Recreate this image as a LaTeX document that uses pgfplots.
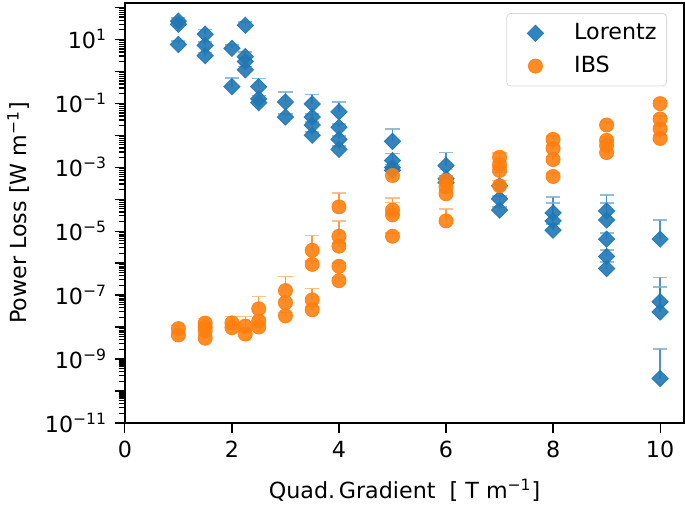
\documentclass[border=0pt]{standalone}
\usepackage{pgfplots}
\pgfplotsset{compat=1.18}
\usepackage{pgfplotstable}
\usepackage{fontspec}
\setmainfont{DejaVu Sans}
\definecolor{cblue}{HTML}{1F77B4}
\definecolor{corange}{HTML}{FF7F0E}
\pgfplotsset{widemark/.style={legend image code/.code={\path (0pt,0pt) (28pt,0pt); \draw[mark repeat=2,mark phase=2,##1] plot coordinates {(0pt,0pt)(11pt,0pt)(18pt,0pt)};}}}

\pgfplotstableread{
x y r
1 37.2 0.26
1 29.5 0.26
1 6.92 0.26
1.5 14.5 0.41
1.5 6.46 0.26
1.5 3.09 0.26
2 5.25 0.26
2 0.331 0.905
2.25 27.5 0.26
2.25 2.88 0.41
2.25 2.04 0.26
2.25 1.12 0.26
2.5 0.331 0.778
2.5 0.138 0.26
2.5 0.105 0.26
3 0.110 1.089
3 0.0372 0.26
3.5 0.0955 0.995
3.5 0.0372 0.26
3.5 0.0209 0.26
3.5 0.0100 0.26
4 0.0537 1.089
4 0.0178 0.26
4 0.00741 0.26
4 0.00363 0.26
5 0.00646 1.399
5 0.00162 0.66
5 0.000977 0.26
5 0.000794 0.26
6 0.00112 1.57
6 0.000437 0.26
6 0.000331 0.26
7 0.000263 1.57
7 0.000102 0.26
7 4.57e-5 0.26
8 3.72e-5 2.162
8 2.09e-5 2.715
8 1.07e-5 0.585
9 4.27e-5 2.162
9 2.24e-5 2.388
9 5.62e-6 0.585
9 1.62e-6 0.585
9 6.76e-7 0.585
10 5.62e-6 2.981
10 6.17e-8 4.754
10 2.95e-8 5.166
10 2.45e-10 7.318
}\lorentz

\pgfplotstableread{
x y r
1 8.91e-9 0.26
1 5.62e-9 0.26
1.5 1.32e-8 0.41
1.5 1.0e-8 0.26
1.5 7.59e-9 0.26
1.5 4.47e-9 0.26
2 1.35e-8 0.585
2 9.55e-9 0.26
2.25 1.07e-8 0.995
2.25 6.03e-9 0.26
2.5 3.72e-8 1.399
2.5 1.55e-8 0.26
2.5 1.0e-8 0.26
3 1.38e-7 1.754
3 5.75e-8 0.26
3 2.24e-8 0.26
3.5 2.51e-6 1.951
3.5 9.12e-7 0.26
3.5 7.08e-8 1.239
3.5 3.47e-8 0.26
4 5.75e-5 1.754
4 6.92e-6 1.951
4 3.39e-6 0.26
4 7.94e-7 0.26
4 2.82e-7 0.26
5 5.5e-4 0.778
5 4.57e-5 1.399
5 3.24e-5 1.399
5 6.92e-6 0.26
6 3.8e-4 1.239
6 2.45e-4 0.26
6 1.48e-4 0.26
6 2.09e-5 1.399
7 2.04e-3 0.349
7 1.2e-3 0.26
7 7.94e-4 0.26
7 2.63e-4 0.445
8 7.41e-3 0.26
8 3.89e-3 0.26
8 1.74e-3 0.26
8 5.13e-4 0.26
9 2.09e-2 0.26
9 6.92e-3 0.26
9 4.79e-3 0.26
9 2.88e-3 0.26
10 9.77e-2 0.26
10 3.24e-2 0.26
10 1.58e-2 0.26
10 7.94e-3 0.26
}\ibs

\begin{document}
\fontsize{11}{13}\selectfont
\begin{tikzpicture}
\begin{axis}[
  scale only axis,
  width=277pt, height=208pt,
  ymode=log,
  xmin=0, xmax=10.45,
  ymin=1e-11, ymax=138,
  xtick={0,2,4,6,8,10},
  /pgf/number format/assume math mode=true,
  ytick={1e-11,1e-10,1e-9,1e-8,1e-7,1e-6,1e-5,1e-4,1e-3,1e-2,1e-1,1,1e1,1e2},
  yticklabels={10\textsuperscript{−11},,10\textsuperscript{−9},,10\textsuperscript{−7},,10\textsuperscript{−5},,10\textsuperscript{−3},,10\textsuperscript{−1},,10\textsuperscript{1},},
  tick align=outside,
  xtick pos=bottom, ytick pos=left,
  major tick length=5pt, minor tick length=3pt,
  tick style={black, line width=0.6pt},
  axis line style={line width=0.8pt},
  xlabel={Quad.\,Gradient\ \ [ T m\textsuperscript{−1}]},
  ylabel={Power Loss [W m\textsuperscript{−1}]},
  xlabel style={yshift=-3pt},
  legend style={at={(1,1)}, anchor=north east, xshift=-8.5pt, yshift=-5pt,
    draw=black!15, rounded corners=2pt, row sep=2.5pt, inner xsep=3pt, inner ysep=3pt},
  legend cell align=left,
  error bars/y dir=plus,
  error bars/y explicit relative,
]
\addplot+[only marks, widemark, mark=square*, mark size=2.85pt, mark options={rotate=45, fill=cblue, draw=cblue, fill opacity=0.9, draw opacity=0.9},
  error bars/error bar style={cblue, line width=0.8pt, opacity=0.8},
  error bars/error mark options={rotate=90, mark size=3.5pt, cblue!60, line width=0.8pt}]
  table[x=x, y=y, y error=r]{\lorentz};
\addlegendentry{Lorentz}
\addplot+[only marks, widemark, mark=*, mark size=3.5pt, mark options={fill=corange, draw=corange, fill opacity=0.9, draw opacity=0.9},
  error bars/error bar style={corange, line width=0.8pt, opacity=0.8},
  error bars/error mark options={rotate=90, mark size=3.5pt, corange!60, line width=0.8pt}]
  table[x=x, y=y, y error=r]{\ibs};
\addlegendentry{IBS}
\end{axis}
\end{tikzpicture}
\end{document}
